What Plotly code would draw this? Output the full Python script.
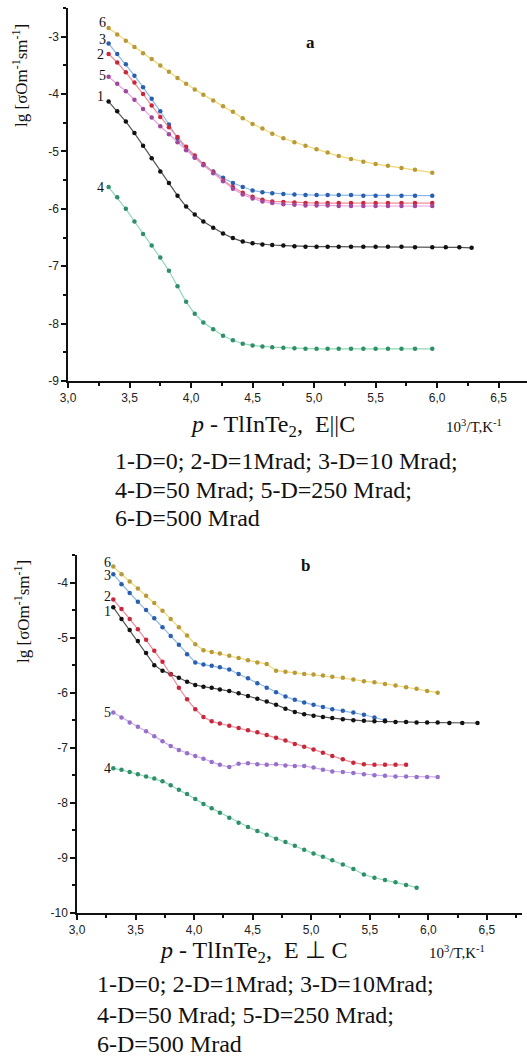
import plotly.graph_objects as go

# ---------------- data: panel a (E || C) ----------------
xa = [3.33, 3.40, 3.47, 3.54, 3.61, 3.68, 3.75, 3.82, 3.89, 3.96, 4.03, 4.10,
      4.18, 4.26, 4.34, 4.42, 4.50, 4.58, 4.66, 4.75, 4.84, 4.93, 5.02, 5.11,
      5.20, 5.30, 5.40, 5.50, 5.60, 5.71, 5.82, 5.96, 6.07, 6.18, 6.28]

a6 = [-2.85, -2.96, -3.07, -3.18, -3.29, -3.39, -3.50, -3.61, -3.72, -3.82, -3.92, -4.01,
      -4.11, -4.21, -4.31, -4.42, -4.52, -4.60, -4.69, -4.77, -4.84, -4.90, -4.96, -5.02,
      -5.08, -5.13, -5.18, -5.22, -5.25, -5.29, -5.32, -5.37]
a3 = [-3.12, -3.30, -3.48, -3.68, -3.88, -4.08, -4.30, -4.53, -4.77, -4.96, -5.10, -5.23,
      -5.35, -5.46, -5.55, -5.62, -5.68, -5.71, -5.73, -5.74, -5.75, -5.76, -5.76, -5.76,
      -5.76, -5.76, -5.77, -5.77, -5.77, -5.77, -5.77, -5.77]
a2 = [-3.30, -3.45, -3.62, -3.80, -4.00, -4.20, -4.40, -4.58, -4.75, -4.92, -5.07, -5.22,
      -5.36, -5.50, -5.62, -5.72, -5.79, -5.84, -5.87, -5.88, -5.89, -5.90, -5.90, -5.90,
      -5.90, -5.90, -5.90, -5.90, -5.90, -5.90, -5.90, -5.90]
a5 = [-3.70, -3.82, -3.95, -4.10, -4.26, -4.41, -4.56, -4.70, -4.84, -4.98, -5.11, -5.24,
      -5.38, -5.52, -5.65, -5.75, -5.82, -5.87, -5.90, -5.92, -5.93, -5.94, -5.94, -5.94,
      -5.95, -5.95, -5.95, -5.95, -5.95, -5.95, -5.95, -5.95]
a1 = [-4.13, -4.30, -4.48, -4.68, -4.90, -5.12, -5.35, -5.55, -5.77, -5.96, -6.10, -6.22,
      -6.33, -6.43, -6.51, -6.57, -6.60, -6.62, -6.63, -6.64, -6.65, -6.66, -6.66, -6.66,
      -6.66, -6.66, -6.66, -6.66, -6.66, -6.66, -6.67, -6.67, -6.67, -6.67, -6.68]
a4 = [-5.62, -5.80, -6.00, -6.22, -6.44, -6.64, -6.85, -7.08, -7.35, -7.62, -7.83, -7.98,
      -8.10, -8.21, -8.29, -8.35, -8.38, -8.40, -8.41, -8.42, -8.43, -8.44, -8.44, -8.44,
      -8.44, -8.44, -8.44, -8.44, -8.44, -8.44, -8.44, -8.44]

# ---------------- data: panel b (E ⊥ C) ----------------
xb = [3.31, 3.38, 3.45, 3.52, 3.59, 3.66, 3.73, 3.80, 3.87, 3.94, 4.01, 4.08, 4.15,
      4.22, 4.30, 4.38, 4.46, 4.54, 4.62, 4.70, 4.78, 4.86, 4.94, 5.02, 5.10, 5.18,
      5.27, 5.36, 5.45, 5.54, 5.63, 5.72, 5.81, 5.90, 5.99, 6.08, 6.18, 6.29, 6.42]

b6 = [-3.71, -3.85, -3.98, -4.11, -4.24, -4.37, -4.51, -4.66, -4.81, -4.96, -5.12, -5.23, -5.26,
      -5.29, -5.33, -5.37, -5.41, -5.45, -5.48, -5.60, -5.62, -5.64, -5.66, -5.67, -5.69, -5.71,
      -5.73, -5.76, -5.79, -5.81, -5.84, -5.87, -5.90, -5.93, -5.97, -6.00]
b3 = [-3.85, -4.03, -4.19, -4.35, -4.50, -4.65, -4.81, -4.97, -5.13, -5.30, -5.45, -5.49, -5.51,
      -5.54, -5.58, -5.66, -5.74, -5.83, -5.91, -5.99, -6.07, -6.13, -6.18, -6.22, -6.26, -6.30,
      -6.33, -6.36, -6.40, -6.45, -6.50]
b2 = [-4.31, -4.48, -4.66, -4.85, -5.04, -5.24, -5.44, -5.67, -5.91, -6.12, -6.30, -6.44, -6.52,
      -6.56, -6.60, -6.64, -6.68, -6.72, -6.77, -6.82, -6.87, -6.93, -6.98, -7.03, -7.09, -7.15,
      -7.21, -7.27, -7.30, -7.31, -7.31, -7.31, -7.31]
b1 = [-4.45, -4.66, -4.86, -5.06, -5.28, -5.50, -5.60, -5.66, -5.73, -5.80, -5.86, -5.89, -5.91,
      -5.94, -5.97, -6.01, -6.06, -6.11, -6.16, -6.22, -6.29, -6.35, -6.39, -6.42, -6.44, -6.46,
      -6.48, -6.50, -6.51, -6.52, -6.52, -6.53, -6.53, -6.54, -6.54, -6.54, -6.55, -6.55, -6.55]
b5 = [-6.36, -6.45, -6.54, -6.62, -6.70, -6.79, -6.88, -6.97, -7.04, -7.10, -7.15, -7.20, -7.26,
      -7.31, -7.35, -7.29, -7.28, -7.30, -7.31, -7.30, -7.32, -7.33, -7.33, -7.36, -7.40, -7.43,
      -7.44, -7.46, -7.48, -7.50, -7.51, -7.52, -7.52, -7.53, -7.53, -7.53]
b4 = [-7.37, -7.40, -7.44, -7.48, -7.52, -7.56, -7.61, -7.68, -7.76, -7.84, -7.93, -8.02, -8.10,
      -8.18, -8.27, -8.36, -8.44, -8.51, -8.58, -8.65, -8.71, -8.78, -8.85, -8.92, -8.98, -9.04,
      -9.12, -9.20, -9.30, -9.36, -9.40, -9.44, -9.49, -9.54]

x_tickvals = [3.0, 3.5, 4.0, 4.5, 5.0, 5.5, 6.0, 6.5]
x_ticktext = ["3,0", "3,5", "4,0", "4,5", "5,0", "5,5", "6,0", "6,5"]
ya_tickvals = [-9, -8, -7, -6, -5, -4, -3]
ya_ticktext = ["-9", "-8", "-7", "-6", "-5", "-4", "-3"]
yb_tickvals = [-10, -9, -8, -7, -6, -5, -4]
yb_ticktext = ["-10", "-9", "-8", "-7", "-6", "-5", "-4"]

legend_a = ["1-D=0; 2-D=1Mrad; 3-D=10 Mrad;", "4-D=50 Mrad; 5-D=250 Mrad;", "6-D=500 Mrad"]
legend_b = ["1-D=0; 2-D=1Mrad; 3-D=10Mrad;", "4-D=50 Mrad; 5-D=250 Mrad;", "6-D=500 Mrad"]

# ---------------- styles ----------------
styles = {
    "1": ("#111111", "#555555"),
    "2": ("#c8283c", "#f08a98"),
    "3": ("#2a5fb0", "#8ab8ea"),
    "4": ("#2f8f68", "#8fd8b8"),
    "5a": ("#a0489c", "#e6a0e0"),
    "5b": ("#9870c8", "#c8b0ec"),
    "6": ("#b89a3a", "#f0d870"),
}

fig = go.Figure()

def add(x, y, key, xax, yax):
    dot, line = styles[key]
    fig.add_trace(go.Scatter(
        x=x[:len(y)], y=y, mode="lines+markers",
        line=dict(color=line, width=1.2),
        marker=dict(color=dot, size=4.5),
        xaxis=xax, yaxis=yax, showlegend=False, hoverinfo="skip"))

for y, k in [(a6, "6"), (a3, "3"), (a2, "2"), (a5, "5a"), (a1, "1"), (a4, "4")]:
    add(xa, y, k, "x", "y")
for y, k in [(b6, "6"), (b3, "3"), (b1, "1"), (b2, "2"), (b5, "5b"), (b4, "4")]:
    add(xb, y, k, "x2", "y2")

W, H = 527, 1058

def px_x(p):
    return p / W

def px_y(p):
    return 1 - p / H

tickfont = dict(family="Liberation Sans Narrow, Liberation Sans, Arial", size=12, color="#222")
axis_common = dict(showline=True, linecolor="#111", linewidth=1.5, ticks="outside",
                   ticklen=5, tickwidth=1.5, tickcolor="#111", showgrid=False,
                   zeroline=False, tickfont=tickfont, tickmode="array", automargin=False)

fig.update_layout(
    width=W, height=H, margin=dict(l=0, r=0, t=0, b=0, autoexpand=False),
    paper_bgcolor="white", plot_bgcolor="white",
    xaxis=dict(domain=[px_x(68), 1.0], range=[3.0, 6.73], anchor="y",
               tickvals=x_tickvals, ticktext=x_ticktext,
               minor=dict(tickvals=[3.25, 3.75, 4.25, 4.75, 5.25, 5.75, 6.25],
                          ticklen=3, tickcolor="#111", ticks="outside"),
               **axis_common),
    yaxis=dict(domain=[px_y(381), px_y(8)], range=[-9, -2.5], anchor="x",
               tickvals=ya_tickvals, ticktext=ya_ticktext,
               minor=dict(tickvals=[-8.5, -7.5, -6.5, -5.5, -4.5, -3.5, -2.5],
                          ticklen=3, tickcolor="#111", ticks="outside"),
               **axis_common),
    xaxis2=dict(domain=[px_x(77), px_x(522)], range=[3.0, 6.8], anchor="y2",
                tickvals=x_tickvals, ticktext=x_ticktext,
                minor=dict(tickvals=[3.25, 3.75, 4.25, 4.75, 5.25, 5.75, 6.25, 6.75],
                           ticklen=3, tickcolor="#111", ticks="outside"),
                **axis_common),
    yaxis2=dict(domain=[px_y(913), px_y(555)], range=[-10, -3.5], anchor="x2",
                tickvals=yb_tickvals, ticktext=yb_ticktext,
                minor=dict(tickvals=[-9.5, -8.5, -7.5, -6.5, -5.5, -4.5, -3.5],
                           ticklen=3, tickcolor="#111", ticks="outside"),
                **axis_common),
)

serif = "Liberation Serif, Times New Roman, serif"
ann = []

def txt(x, y, s, size, xanchor="center", yanchor="middle", angle=0, color="#111"):
    ann.append(dict(x=px_x(x), y=px_y(y), xref="paper", yref="paper", text=s,
                    showarrow=False, xanchor=xanchor, yanchor=yanchor, textangle=angle,
                    font=dict(family=serif, size=size, color=color)))

ytitle = "lg [σOm<sup>-1</sup>sm<sup>-1</sup>]"
txt(20, 76, ytitle, 17, angle=-90)
txt(22, 612, ytitle, 17, angle=-90)
txt(310, 42, "<b>a</b>", 17)
txt(305, 565, "<b>b</b>", 17)

# curve number labels
for s, x, y in [("6", 102, 23), ("3", 102, 39), ("2", 100, 55), ("5", 102, 75),
                ("1", 100, 97), ("4", 100, 187)]:
    txt(x, y, s, 14)
for s, x, y in [("6", 107, 562), ("3", 107, 575), ("2", 107, 596), ("1", 107, 611),
                ("5", 107, 712), ("4", 107, 769)]:
    txt(x, y, s, 14)

# x-axis captions
txt(272, 426, "<i>p</i> - TlInTe<sub>2</sub>,  E||C", 24)
txt(474, 426, "10<sup>3</sup>/T,K<sup>-1</sup>", 15)
txt(253, 952, "<i>p</i> - TlInTe<sub>2</sub>,  E ⊥ C", 24)
txt(457, 952, "10<sup>3</sup>/T,K<sup>-1</sup>", 15)

for s, y in zip(legend_a, [461, 490, 518]):
    txt(113, y, s, 24, xanchor="left")
for s, y in zip(legend_b, [984, 1015, 1044]):
    txt(95, y, s, 24, xanchor="left")

fig.update_layout(annotations=ann)
fig.write_html("out.html", config={"displayModeBar": False},
               post_script="document.body.style.margin='0';document.body.style.overflow='hidden';")
